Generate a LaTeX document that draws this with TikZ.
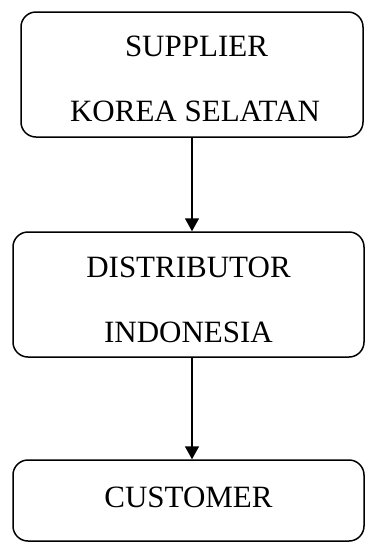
\documentclass[tikz,border=0pt]{standalone}
\usepackage{fontspec}
\setmainfont{Liberation Serif}
\usetikzlibrary{arrows.meta}

\begin{document}
\begin{tikzpicture}[x=1pt,y=1pt,
		box/.style={draw,line width=1.5pt,rounded corners=15pt,align=center,
			font=\fontsize{31}{65}\selectfont,inner sep=0pt},
		arr/.style={line width=1.5pt,-{Triangle[length=13pt,width=14pt]}}]

		\useasboundingbox (0,0) rectangle (366,-542);

		\node[box,minimum width=342pt,minimum height=125pt,text height=95pt] (supplier) at (192,-74.5)
			{\hspace*{9pt}SUPPLIER\\\hspace*{6pt}KOREA SELATAN};
		\node[box,minimum width=351pt,minimum height=125pt,text height=96pt] (distributor) at (188.5,-294.5)
			{DISTRIBUTOR\\INDONESIA};
		\node[box,minimum width=351pt,minimum height=81pt,text depth=7pt] (customer) at (188.5,-500.5)
			{CUSTOMER};

		\draw[arr] (supplier.south) -- (supplier.south |- distributor.north);
		\draw[arr] (distributor.south -| supplier.south) -- (supplier.south |- customer.north);

\end{tikzpicture}
\end{document}
